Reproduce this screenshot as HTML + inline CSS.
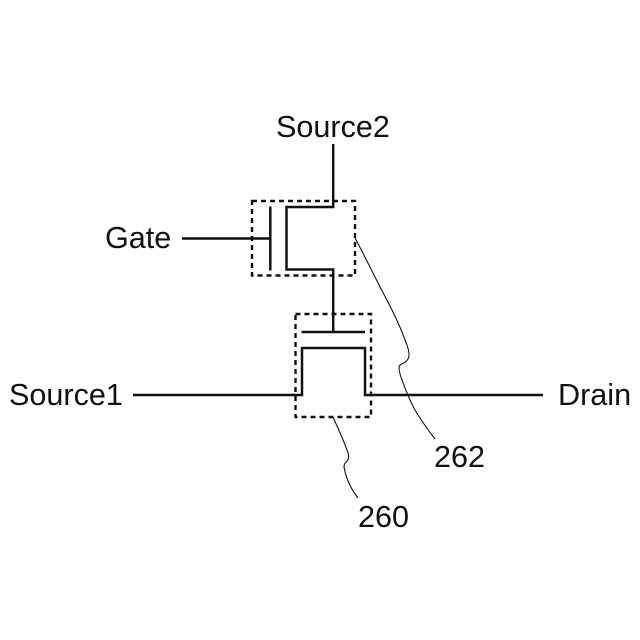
<!DOCTYPE html>
<html>
<head>
<meta charset="utf-8">
<style>
html,body{margin:0;padding:0;background:#fff}
svg{display:block}
text{font-family:"Liberation Sans",Arial,sans-serif;font-size:30.6px;fill:#111}
</style>
</head>
<body>
<svg width="640" height="640" viewBox="0 0 640 640" xmlns="http://www.w3.org/2000/svg">
<rect width="640" height="640" fill="#fff"/>
<g fill="none" stroke="#111" stroke-width="2.4" stroke-dasharray="5 4">
<rect x="252" y="201" width="103" height="74.5"/>
<rect x="295.5" y="314" width="75.5" height="103"/>
</g>
<g fill="none" stroke="#111" stroke-width="2.5">
<path d="M333.2 144V207H286.5V269.5H333.2V332"/>
<path d="M182 238.5H270"/>
<path d="M270.3 206.5V270.5"/>
<path d="M301.5 332H365"/>
<path d="M133 395H302V348H365V395H543"/>
</g>
<g fill="none" stroke="#111" stroke-width="1.1">
<path d="M355 238C363 253 369 265 375 277C381 289 387 300 392 310C398 322 403 334 407 345C409 351 410 356 408 359C406 363 403 363 400 365C398 367 399 372 402 380C406 391 410 401 415 410C421 420 428 430 435 439"/>
<path d="M333 417C338 428 343 439 347 450C349 455 349 459 347 461C345 463 344 464 344 467C345 473 346 476 348 481C351 488 354 493 358 498"/>
</g>
<text x="276" y="137">Source2</text>
<text x="105" y="248">Gate</text>
<text x="9" y="405">Source1</text>
<text x="558" y="405">Drain</text>
<text x="434" y="467">262</text>
<text x="358" y="527">260</text>
</svg>
</body>
</html>
